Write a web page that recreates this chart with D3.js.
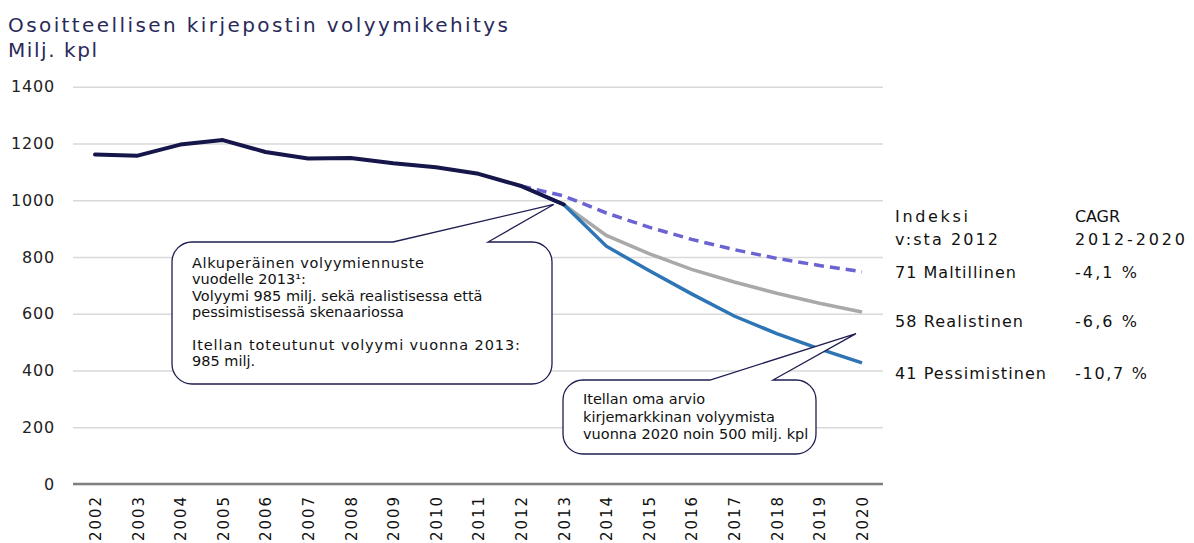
<!DOCTYPE html>
<html>
<head>
<meta charset="utf-8">
<script src="https://cdn.jsdelivr.net/npm/d3@7"></script>
<style>
  body { margin: 0; background: #fff; }
  text { font-family: "DejaVu Sans", sans-serif; }
</style>
</head>
<body>
<div id="chart"></div>
<script>
// values (milj. kpl)
const histYears = [2002, 2003, 2004, 2005, 2006, 2007, 2008, 2009, 2010, 2011, 2012, 2013]
const histValues = [1161, 1157, 1196, 1212, 1170, 1147, 1149, 1130, 1116, 1093, 1050, 985]

const fcYears = [2012, 2013, 2014, 2015, 2016, 2017, 2018, 2019, 2020]
const moderate = [1050, 1015, 955, 905, 862, 826, 795, 770, 748]
const realistic = [1050, 985, 876, 812, 756, 712, 672, 637, 606]
const pessimistic = [1050, 985, 838, 752, 670, 592, 530, 476, 427]

const yTicks = [0, 200, 400, 600, 800, 1000, 1200, 1400]
const xTicks = d3.range(2002, 2021)

const tableHead = [['Indeksi', 'v:sta 2012'], ['CAGR', '2012-2020']]
const rowLabels = ['71 Maltillinen', '58 Realistinen', '41 Pessimistinen']
const rowCagr = ['-4,1 %', '-6,6 %', '-10,7 %']

const note1 = ['Alkuperäinen volyymiennuste', 'vuodelle 2013¹:',
    'Volyymi 985 milj. sekä realistisessa että', 'pessimistisessä skenaariossa', '',
    'Itellan toteutunut volyymi vuonna 2013:', '985 milj.']
const note2 = ['Itellan oma arvio', 'kirjemarkkinan volyymista', 'vuonna 2020 noin 500 milj. kpl']

const width = 1194
const height = 543

// the original font is wider than DejaVu in places, so some texts get a fixed length
function fit(sel, len) {
    if (len) sel.attr('textLength', len).attr('lengthAdjust', 'spacing')
    return sel
}

const svg = d3.select('#chart')
    .append('svg')
    .attr('width', width)
    .attr('height', height)

const x = d3.scaleLinear().domain([2002, 2020]).range([95, 862])
const y = d3.scaleLinear().domain([0, 1400]).range([484, 86.7])

// title
fit(svg.append('text')
    .attr('x', 8).attr('y', 32)
    .attr('fill', '#2a2a5a')
    .style('font-size', '20px')
    .text('Osoitteellisen kirjepostin volyymikehitys'), 500)
fit(svg.append('text')
    .attr('x', 8).attr('y', 57)
    .attr('fill', '#2a2a5a')
    .style('font-size', '20px')
    .text('Milj. kpl'), 89)

// y axis with gridlines
const yAxis = svg.append('g')
    .attr('transform', 'translate(883,0)')
    .call(d3.axisLeft(y).tickValues(yTicks).tickSize(810).tickFormat(d3.format('d')))
yAxis.select('.domain').remove()
yAxis.selectAll('.tick line').attr('stroke', '#d9d9d9').attr('stroke-width', 1.5)
yAxis.selectAll('.tick text')
    .attr('x', -828)
    .attr('fill', '#222')
    .style('font-size', '16px')
    .style('letter-spacing', '0.8px')

// x axis
svg.append('line')
    .attr('x1', 73).attr('x2', 883)
    .attr('y1', y(0)).attr('y2', y(0))
    .attr('stroke', '#808080').attr('stroke-width', 2.5)

const xAxis = svg.append('g')
    .attr('transform', `translate(0,${y(0)})`)
    .call(d3.axisBottom(x).tickValues(xTicks).tickSize(0).tickFormat(d3.format('d')))
xAxis.select('.domain').remove()
xAxis.selectAll('.tick text')
    .attr('transform', 'rotate(-90)')
    .attr('x', -13).attr('y', 0).attr('dy', '0.36em')
    .attr('text-anchor', 'end')
    .attr('fill', '#111')
    .style('font-size', '15px')
    .attr('textLength', 44).attr('lengthAdjust', 'spacing')

const line = d3.line().x(d => x(d[0])).y(d => y(d[1]))
const zip = (a, b) => a.map((v, i) => [v, b[i]])

svg.append('path').datum(zip(fcYears, realistic))
    .attr('d', line).attr('fill', 'none')
    .attr('stroke', '#a9a9a9').attr('stroke-width', 3.5)
svg.append('path').datum(zip(fcYears, pessimistic))
    .attr('d', line).attr('fill', 'none')
    .attr('stroke', '#2e75b6').attr('stroke-width', 3.5)
svg.append('path').datum(zip(fcYears, moderate))
    .attr('d', line).attr('fill', 'none')
    .attr('stroke', '#6a63d1').attr('stroke-width', 3.5)
    .attr('stroke-dasharray', '10,6')
svg.append('path').datum(zip(histYears, histValues))
    .attr('d', line).attr('fill', 'none')
    .attr('stroke', '#16164a').attr('stroke-width', 4)
    .attr('stroke-linejoin', 'round').attr('stroke-linecap', 'round')

// callouts: rounded box with a pointer to a point on the chart
function callout(box, base, tip, lines, lens, first, lh) {
    const g = svg.append('g')
    const r = 20
    const { x0, y0, x1, y1 } = box
    const p = d3.path()
    p.moveTo(x0 + r, y0)
    p.lineTo(base[0], y0)
    p.lineTo(tip[0], tip[1])
    p.lineTo(base[1], y0)
    p.lineTo(x1 - r, y0)
    p.arcTo(x1, y0, x1, y0 + r, r)
    p.lineTo(x1, y1 - r)
    p.arcTo(x1, y1, x1 - r, y1, r)
    p.lineTo(x0 + r, y1)
    p.arcTo(x0, y1, x0, y1 - r, r)
    p.lineTo(x0, y0 + r)
    p.arcTo(x0, y0, x0 + r, y0, r)
    p.closePath()
    g.append('path').attr('d', p.toString())
        .attr('fill', '#fff').attr('stroke', '#1e1e50').attr('stroke-width', 1.3)
    lines.forEach((t, i) => {
        if (!t) return
        fit(g.append('text')
            .attr('x', x0 + 20)
            .attr('y', y0 + first + i * lh)
            .attr('fill', '#111')
            .style('font-size', '14.5px')
            .text(t), lens[i])
    })
}

callout({ x0: 172, y0: 242, x1: 552, y1: 384 }, [393, 488], [x(2013) - 10, y(985)],
    note1, [232, 0, 0, 0, 0, 328, 0], 26, 16.4)
callout({ x0: 563, y0: 380, x1: 816, y1: 454 }, [710, 773], [x(2020) - 6, y(530)],
    note2, [122, 0, 0], 24, 17.5)

// right side table
const table = svg.append('g').attr('fill', '#111').style('font-size', '16px')
const headLens = [[73, 103], [45, 110]]
tableHead.forEach((col, ci) => {
    col.forEach((t, li) => {
        fit(table.append('text')
            .attr('x', ci === 0 ? 895 : 1075)
            .attr('y', 222 + li * 22.5)
            .text(t), headLens[ci][li])
    })
})
const rowY = [278, 327, 379]
const labelLens = [121, 128, 151]
const cagrLens = [62, 62, 72]
rowLabels.forEach((t, i) => {
    fit(table.append('text').attr('x', 895).attr('y', rowY[i]).text(t), labelLens[i])
    fit(table.append('text').attr('x', 1075).attr('y', rowY[i]).text(rowCagr[i]), cagrLens[i])
})
</script>
</body>
</html>
